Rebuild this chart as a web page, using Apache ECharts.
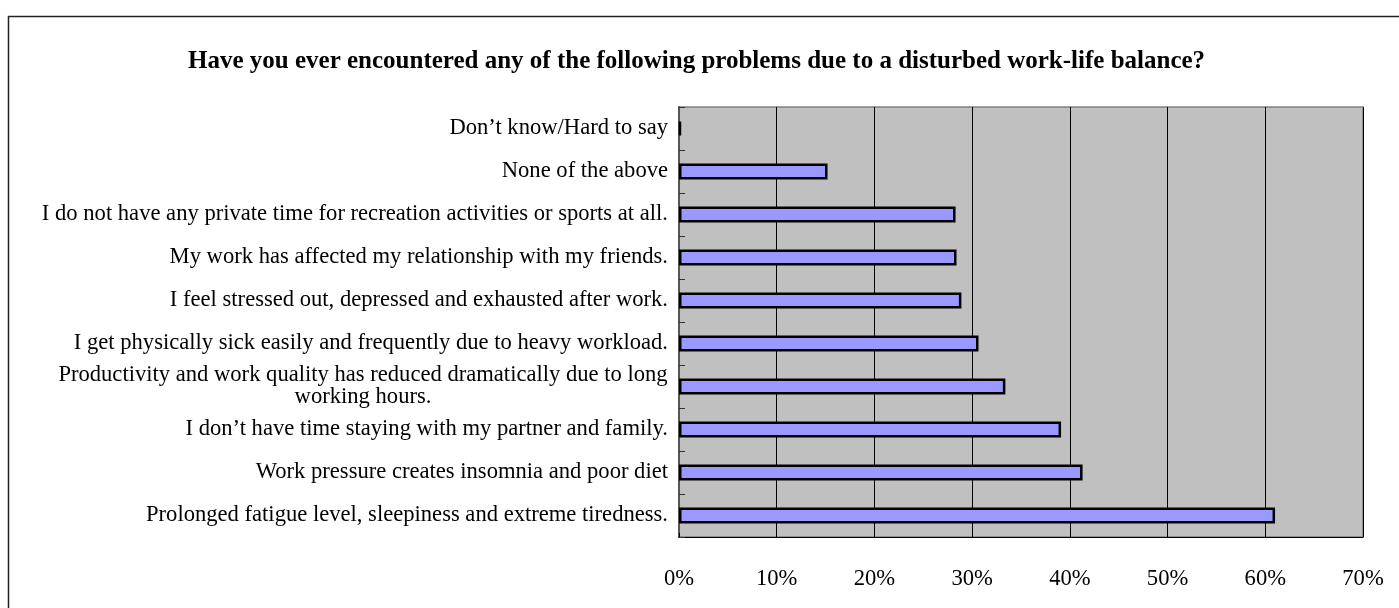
<!DOCTYPE html>
<html>
<head>
<meta charset="utf-8">
<script src="https://cdn.jsdelivr.net/npm/echarts@6/dist/echarts.min.js"></script>
<style>
html,body{margin:0;padding:0;background:#fff;}
#chart{width:1399px;height:608px;}
</style>
</head>
<body>
<div id="chart"></div>
<script>
const titleText = 'Have you ever encountered any of the following problems due to a disturbed work-life balance?';
const categories = [
  "Don\u2019t know/Hard to say",
  "None of the above",
  "I do not have any private time for recreation activities or sports at all.",
  "My work has affected my relationship with my friends.",
  "I feel stressed out, depressed and exhausted after work.",
  "I get physically sick easily and frequently due to heavy workload.",
  "Productivity and work quality has reduced dramatically due to long\nworking hours.",
  "I don\u2019t have time staying with my partner and family.",
  "Work pressure creates insomnia and poor diet",
  "Prolonged fatigue level, sleepiness and extreme tiredness."
];
const values = [0.2, 15.2, 28.3, 28.4, 28.9, 30.65, 33.4, 39.1, 41.3, 61.0];
const xTicks = [0, 10, 20, 30, 40, 50, 60, 70];

const FONT = 'Liberation Serif';
const LABEL_SIZE = 22.6;
const TITLE_SIZE = 25;

function measure(text, size, weight) {
  const c = document.createElement('canvas').getContext('2d');
  c.font = (weight || 'normal') + ' ' + size + 'px "' + FONT + '"';
  return c.measureText(text).width;
}
const titleW = measure(titleText, TITLE_SIZE, 'bold');

const chart = echarts.init(document.getElementById('chart'), null, {renderer: 'canvas'});
chart.setOption({
  backgroundColor: '#fff',
  animation: false,
  title: {
    text: titleText,
    left: Math.round(691.5 - titleW / 2),
    top: 44,
    textStyle: {fontFamily: FONT, fontSize: TITLE_SIZE, fontWeight: 'bold', color: '#000'}
  },
  graphic: [{
    type: 'rect',
    shape: {x: 8.5, y: 16.5, width: 1420, height: 640},
    style: {fill: 'none', stroke: '#222', lineWidth: 1.5},
    silent: true
  }],
  grid: {
    left: 679, right: 36, top: 107, bottom: 71,
    show: true, backgroundColor: '#c0c0c0', borderColor: '#808080', borderWidth: 1.5
  },
  xAxis: {
    type: 'value', min: xTicks[0], max: xTicks[xTicks.length - 1], interval: 10,
    axisLabel: {formatter: '{value}%', fontFamily: FONT, fontSize: LABEL_SIZE, color: '#000', margin: 31},
    axisLine: {show: true, lineStyle: {color: '#000', width: 1}},
    axisTick: {show: true, inside: true, length: 4, lineStyle: {color: '#000'}},
    splitLine: {show: true, lineStyle: {color: '#000', width: 1}}
  },
  yAxis: {
    type: 'category', data: categories, inverse: true,
    axisLine: {show: true, lineStyle: {color: '#555', width: 2}},
    axisTick: {show: true, inside: true, length: 6, lineStyle: {color: '#333'}},
    axisLabel: {
      fontFamily: FONT, fontSize: LABEL_SIZE, color: '#000', margin: 11, lineHeight: 22,
      formatter: function (v) {
        const lines = v.split('\n');
        if (lines.length === 1) return v;
        return lines.map(l => '{c|' + l + '}').join('\n');
      },
      rich: {
        c: {fontFamily: FONT, fontSize: LABEL_SIZE, color: '#000', lineHeight: 22, align: 'center',
            width: Math.ceil(measure('Productivity and work quality has reduced dramatically due to long', LABEL_SIZE))}
      }
    }
  },
  series: [{
    type: 'bar', data: values, barWidth: 16,
    itemStyle: {color: '#9999ff', borderColor: '#000', borderWidth: 2.5}
  }]
});
</script>
</body>
</html>
